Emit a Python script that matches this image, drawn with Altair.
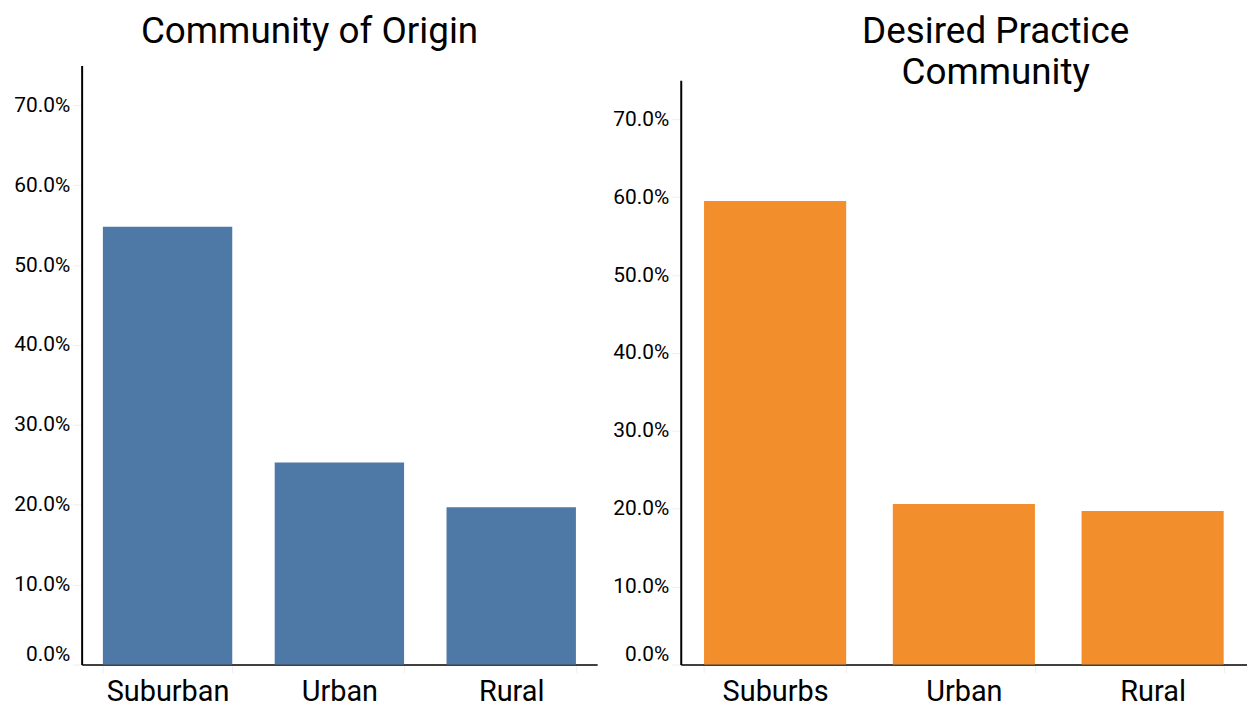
import altair as alt
import pandas as pd

origin_cats = ["Suburban", "Urban", "Rural"]
origin_vals = [0.548, 0.253, 0.197]

desired_cats = ["Suburbs", "Urban", "Rural"]
desired_vals = [0.595, 0.206, 0.197]

y_ticks = [0.0, 0.1, 0.2, 0.3, 0.4, 0.5, 0.6, 0.7]

df_o = pd.DataFrame({"cat": origin_cats, "val": origin_vals})
df_d = pd.DataFrame({"cat": desired_cats, "val": desired_vals})

FONT = "Roboto"
PANEL_H = 602


def panel(df, color, title, width, y_range, dx, offset, line_height=42):
    yscale = alt.Scale(domain=[0, 0.75], nice=False, zero=True)
    if y_range is not None:
        yscale = alt.Scale(domain=[0, 0.75], nice=False, zero=True, range=y_range)
    return (
        alt.Chart(df)
        .mark_bar(color=color)
        .encode(
            x=alt.X(
                "cat:N",
                sort=None,
                title=None,
                scale=alt.Scale(paddingInner=0.247, paddingOuter=0.1235),
                axis=alt.Axis(
                    labelAngle=0,
                    labelFont=FONT,
                    labelFontSize=29,
                    labelColor="#000000",
                    labelPadding=5,
                    tickBand="extent",
                    tickColor="#eeeeee",
                    tickSize=8,
                    domainColor="#000000",
                    domainWidth=1.5,
                    grid=False,
                ),
            ),
            y=alt.Y(
                "val:Q",
                title=None,
                scale=yscale,
                axis=alt.Axis(
                    values=y_ticks,
                    format=".1%",
                    labelFont=FONT,
                    labelFontSize=21,
                    labelColor="#000000",
                    labelPadding=3,
                    labelFlush=True,
                    tickColor="#eeeeee",
                    tickSize=9,
                    domainColor="#000000",
                    domainWidth=2,
                    grid=False,
                ),
            ),
        )
        .properties(
            width=width,
            height=PANEL_H,
            title=alt.TitleParams(
                text=title,
                font=FONT,
                fontSize=37,
                fontWeight="normal",
                color="#000000",
                anchor="middle",
                frame="group",
                dx=dx,
                offset=offset,
                lineHeight=line_height,
            ),
        )
    )


left = panel(df_o, "#4e79a7", "Community of Origin", 518, None, -30, 15)
right = panel(df_d, "#f28e2b", ["Desired Practice", "Community"], 569, [PANEL_H, 15], 32, -27)

chart = (
    alt.hconcat(left, right, spacing=15)
    .properties(padding={"left": 5, "top": 3, "right": 0, "bottom": 0})
    .configure_view(stroke=None)
)

chart.save("out.html", embed_options={"renderer": "svg", "actions": False})
